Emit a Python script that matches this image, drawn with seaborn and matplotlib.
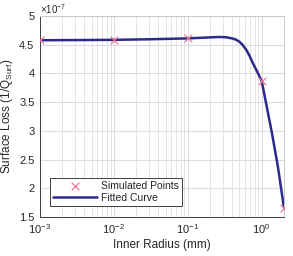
import numpy as np
import pandas as pd
import matplotlib
matplotlib.use("Agg")
import matplotlib.pyplot as plt
import seaborn as sns
from matplotlib.ticker import FuncFormatter, LogLocator

sns.set_style("white")
plt.rcParams['font.family'] = ['Liberation Sans', 'DejaVu Sans']
plt.rcParams['mathtext.fontset'] = 'custom'
plt.rcParams['mathtext.rm'] = 'Liberation Sans'
plt.rcParams['mathtext.it'] = 'Liberation Sans:italic'

# Simulated points
sim_radius = [0.001, 0.01, 0.1, 1.0, 2.0]
sim_loss = [4.582e-7, 4.585e-7, 4.61e-7, 3.87e-7, 1.665e-7]

# Fitted curve
fit_radius = [0.001, 0.003, 0.01, 0.03, 0.1, 0.2, 0.27, 0.33, 0.4, 0.45, 0.5, 0.55, 0.62, 0.69,
              0.76, 0.87, 1.0, 1.16, 1.38, 1.66, 2.0]
fit_loss = [4.578e-7, 4.581e-7, 4.585e-7, 4.595e-7, 4.61e-7, 4.628e-7, 4.635e-7, 4.63e-7, 4.61e-7,
            4.588e-7, 4.552e-7, 4.5e-7, 4.41e-7, 4.30e-7, 4.18e-7, 4.03e-7, 3.87e-7, 3.45e-7,
            2.956e-7, 2.375e-7, 1.665e-7]

y_ticks = [1.5e-7, 2e-7, 2.5e-7, 3e-7, 3.5e-7, 4e-7, 4.5e-7, 5e-7]

sim = pd.DataFrame({"r": sim_radius, "q": sim_loss})
fit = pd.DataFrame({"r": fit_radius, "q": fit_loss})

fig = plt.figure(figsize=(2.93, 2.56), dpi=100)
ax = fig.add_axes([0.1365, 0.152, 0.8325, 0.7855])

sns.lineplot(data=fit, x="r", y="q", ax=ax, color="#2b2a8c", lw=1.8, label="Fitted Curve", zorder=3)
sns.scatterplot(data=sim, x="r", y="q", ax=ax, marker="x", color="#e8789a", s=30, linewidth=0.9,
                label="Simulated Points", zorder=4)

ax.set_xscale("log")
ax.set_xlim(1e-3, 2.0)
ax.set_ylim(1.5e-7, 5e-7)
ax.set_yticks(y_ticks)
ax.yaxis.set_major_formatter(FuncFormatter(lambda v, p: "%g" % round(v / 1e-7, 3)))
ax.text(0.0, 0.998, r"$\times10^{-7}$", transform=ax.transAxes, fontsize=7, color="#262626",
        ha="left", va="bottom")
ax.xaxis.set_major_locator(LogLocator(base=10, numticks=10))
ax.xaxis.set_minor_locator(LogLocator(base=10, subs=np.arange(2, 10), numticks=20))

ax.grid(True, which="major", color="#dcdcdc", lw=0.8)
ax.grid(True, which="minor", axis="x", color="#e4e4e4", lw=0.7)
ax.set_axisbelow(True)
for s in ax.spines.values():
    s.set_color("#404040")
    s.set_linewidth(0.7)
ax.spines["top"].set_color("#c8c8c8")
ax.spines["right"].set_color("#c8c8c8")
ax.tick_params(axis="both", which="both", labelsize=8, colors="#262626", length=0, pad=4)

ax.set_xlabel("Inner Radius (mm)", fontsize=8.5, color="#262626", labelpad=2)
ax.set_ylabel("Surface Loss (1/Q$_{\\mathrm{Surf}}$)", fontsize=8.5, color="#262626", labelpad=3)

handles, labels = ax.get_legend_handles_labels()
order = [labels.index("Simulated Points"), labels.index("Fitted Curve")]
leg = ax.legend([handles[i] for i in order], [labels[i] for i in order], loc="lower left",
                bbox_to_anchor=(0.02, 0.03), fontsize=7.5, frameon=True, fancybox=False,
                edgecolor="#404040", framealpha=1, borderpad=0.3, handlelength=4.2,
                handletextpad=0.4, labelspacing=0.2)
leg.get_frame().set_linewidth(0.7)

fig.savefig("out.png", dpi=100)
